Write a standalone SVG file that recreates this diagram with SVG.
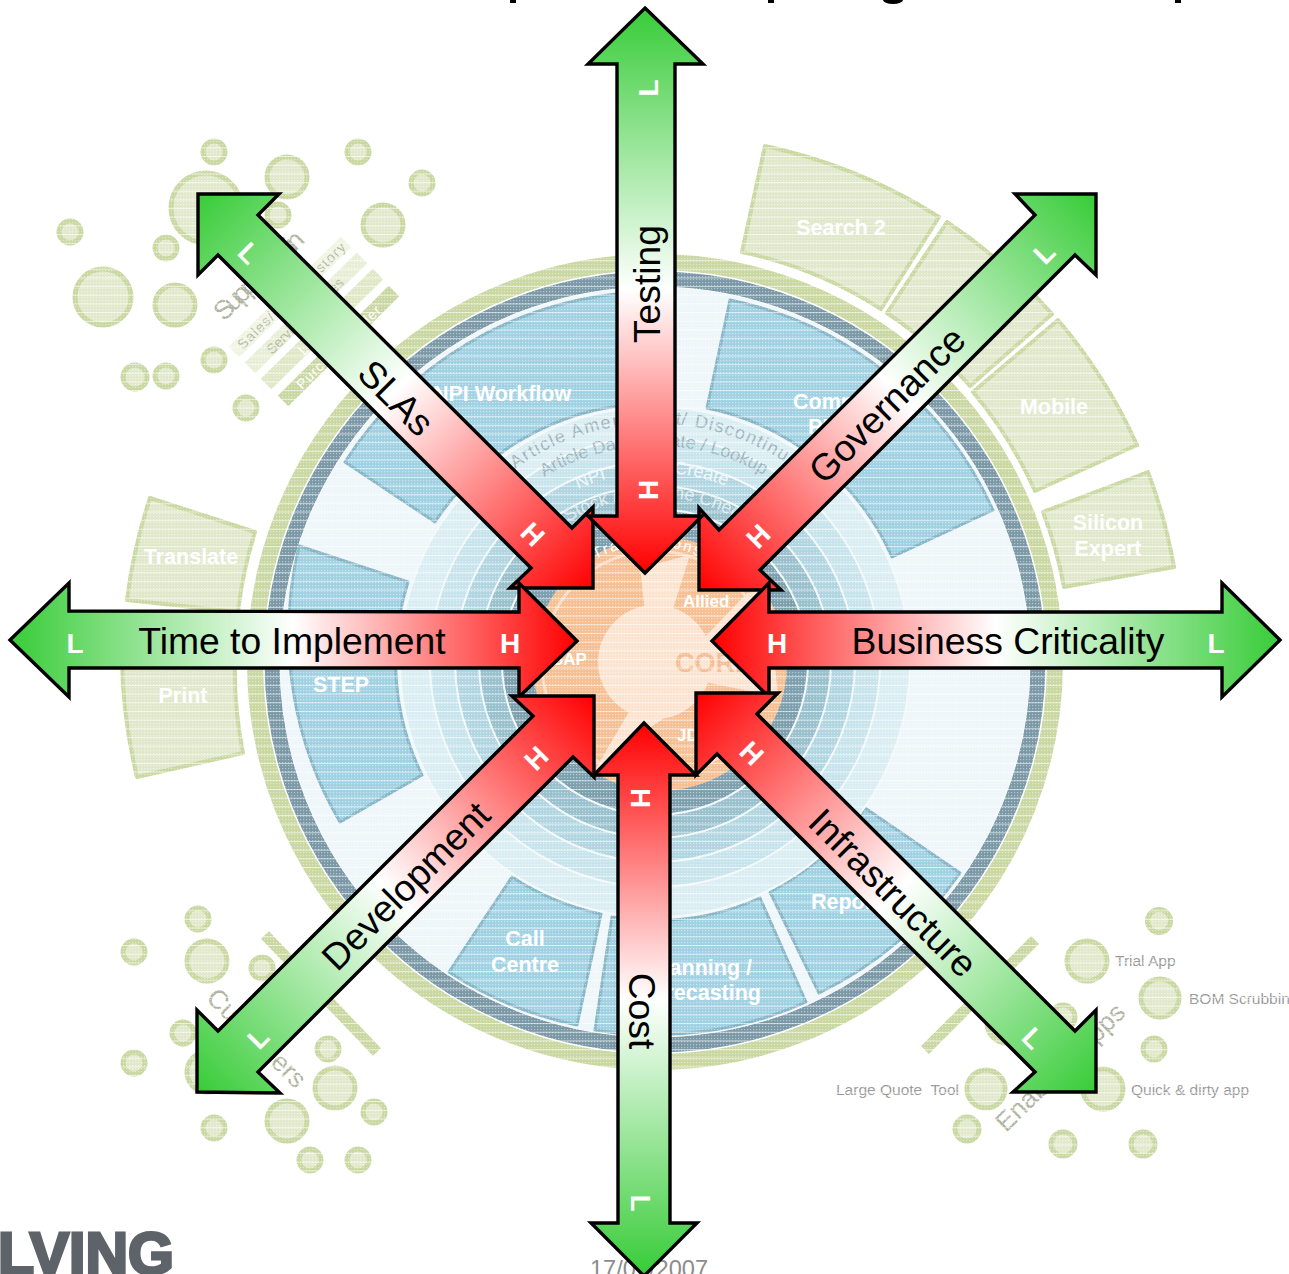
<svg xmlns="http://www.w3.org/2000/svg" width="1289" height="1274" viewBox="0 0 1289 1274">
<style>
text{font-family:"Liberation Sans",Arial,sans-serif}
.seg{fill:#e0e8cb;stroke:#c9d7a1;stroke-width:4;stroke-linejoin:round}
.blue{fill:#a0d1e2;stroke:#86b5c6;stroke-width:3;stroke-linejoin:round}
.bub{fill:#e1e9cc;stroke:#c9d7a1;stroke-width:5}
.wl{fill:#fff;font-weight:bold;font-size:21.5px;text-anchor:middle}
.sm{fill:#999;font-size:15.5px}
.big{fill:#aeb39f;font-size:26.5px}
.bar{fill:none;stroke-width:15}
.ring{stroke:#f2f8fa;stroke-width:2}
.arc{font-size:18px;fill:#9fb3bc}
.arrow{stroke:#000;stroke-width:3.4;stroke-linejoin:miter}
.t{font-size:37.3px;fill:#000;text-anchor:middle}
.hl{font-size:28px;font-weight:bold;fill:#fff;text-anchor:middle}
</style>
<defs>
<pattern id="dots" width="3" height="3" patternUnits="userSpaceOnUse"><rect width="1.2" height="1.2" fill="#fff" fill-opacity=".45"/></pattern>
<pattern id="lines" width="9" height="8.67" patternUnits="userSpaceOnUse"><rect width="9" height="1" fill="#fff" fill-opacity=".6"/></pattern>
<path id="a1" d="M515,469A238,238 0 0 1 795,469"/>
<path id="a2" d="M544,477A216,216 0 0 1 764,475"/>
<path id="a3" d="M578,489A190,190 0 0 1 726,486"/>
<path id="a4" d="M568,522A165,165 0 0 1 742,522"/>
<path id="a5" d="M595,559A122,122 0 0 1 705,559"/>
<linearGradient id="gTest" gradientUnits="userSpaceOnUse" x1="645" y1="8" x2="645" y2="573"><stop offset="0" stop-color="#38cc38"/><stop offset=".5" stop-color="#fff"/><stop offset="1" stop-color="#f00"/></linearGradient>
<linearGradient id="gCost" gradientUnits="userSpaceOnUse" x1="644" y1="1274" x2="644" y2="723"><stop offset="0" stop-color="#38cc38"/><stop offset=".5" stop-color="#fff"/><stop offset="1" stop-color="#f00"/></linearGradient>
<linearGradient id="gTime" gradientUnits="userSpaceOnUse" x1="10" y1="640" x2="577" y2="640"><stop offset="0" stop-color="#38cc38"/><stop offset=".5" stop-color="#fff"/><stop offset="1" stop-color="#f00"/></linearGradient>
<linearGradient id="gBus" gradientUnits="userSpaceOnUse" x1="1280" y1="640" x2="712" y2="640"><stop offset="0" stop-color="#38cc38"/><stop offset=".5" stop-color="#fff"/><stop offset="1" stop-color="#f00"/></linearGradient>
<linearGradient id="gSla" gradientUnits="userSpaceOnUse" x1="198" y1="194" x2="593" y2="588"><stop offset="0" stop-color="#38cc38"/><stop offset=".5" stop-color="#fff"/><stop offset="1" stop-color="#f00"/></linearGradient>
<linearGradient id="gGov" gradientUnits="userSpaceOnUse" x1="1096" y1="194" x2="699" y2="590"><stop offset="0" stop-color="#38cc38"/><stop offset=".5" stop-color="#fff"/><stop offset="1" stop-color="#f00"/></linearGradient>
<linearGradient id="gDev" gradientUnits="userSpaceOnUse" x1="197" y1="1092" x2="594" y2="696"><stop offset="0" stop-color="#38cc38"/><stop offset=".5" stop-color="#fff"/><stop offset="1" stop-color="#f00"/></linearGradient>
<linearGradient id="gInf" gradientUnits="userSpaceOnUse" x1="1096" y1="1092" x2="696" y2="693"><stop offset="0" stop-color="#38cc38"/><stop offset=".5" stop-color="#fff"/><stop offset="1" stop-color="#f00"/></linearGradient>
</defs>
<rect width="1289" height="1274" fill="#fff"/>
<g id="background">
<g id="bubbles">
<circle class="bub" cx="214" cy="152" r="11"/><circle class="bub" cx="287" cy="177" r="20"/><circle class="bub" cx="358" cy="152" r="11"/><circle class="bub" cx="422" cy="183" r="11"/><circle class="bub" cx="206" cy="208" r="35"/><circle class="bub" cx="278" cy="215" r="11"/><circle class="bub" cx="383" cy="225" r="20"/><circle class="bub" cx="70" cy="232" r="11"/><circle class="bub" cx="166" cy="248" r="11"/><circle class="bub" cx="103" cy="297" r="28"/><circle class="bub" cx="175" cy="305" r="20"/><circle class="bub" cx="214" cy="360" r="11"/><circle class="bub" cx="135" cy="377" r="12"/><circle class="bub" cx="166" cy="376" r="11"/><circle class="bub" cx="246" cy="408" r="11"/>
<circle class="bub" cx="198" cy="919" r="11"/><circle class="bub" cx="134" cy="952" r="11"/><circle class="bub" cx="207" cy="961" r="20"/><circle class="bub" cx="262" cy="968" r="11"/><circle class="bub" cx="183" cy="1033" r="11"/><circle class="bub" cx="134" cy="1063" r="11"/><circle class="bub" cx="207" cy="1072" r="20"/><circle class="bub" cx="328" cy="1049" r="11"/><circle class="bub" cx="335" cy="1088" r="20"/><circle class="bub" cx="374" cy="1112" r="11"/><circle class="bub" cx="287" cy="1121" r="20"/><circle class="bub" cx="214" cy="1128" r="11"/><circle class="bub" cx="310" cy="1160" r="11"/><circle class="bub" cx="358" cy="1160" r="11"/>
<circle class="bub" cx="1159" cy="921" r="11.5"/><circle class="bub" cx="1087" cy="961" r="20"/><circle class="bub" cx="1160" cy="998" r="19"/><circle class="bub" cx="1154" cy="1049" r="11"/><circle class="bub" cx="1063" cy="1017" r="12"/><circle class="bub" cx="1007" cy="1023" r="20"/><circle class="bub" cx="986" cy="1089" r="19"/><circle class="bub" cx="1103" cy="1089" r="20"/><circle class="bub" cx="967" cy="1129" r="12"/><circle class="bub" cx="1063" cy="1144" r="12"/><circle class="bub" cx="1143" cy="1144" r="12"/>
</g>
<g id="supply-bars">
<line class="bar" x1="234" y1="352" x2="346" y2="242" stroke="#f0f4e3"/>
<line class="bar" x1="250" y1="368" x2="362" y2="258" stroke="#e8eed6"/>
<line class="bar" x1="266" y1="384" x2="378" y2="274" stroke="#dfe7c6"/>
<line class="bar" x1="283" y1="401" x2="394" y2="291" stroke="#c8d7a2"/>
<text font-size="14" fill="#b4b9a4" transform="translate(243,350) rotate(-44.5)" textLength="145">Sales/Order History</text>
<text font-size="14" fill="#b4b9a4" transform="translate(272,355) rotate(-44.5)">Service Invoices</text>
<text font-size="14" fill="#fff" transform="translate(304,356) rotate(-44.5)">Logistics</text>
<text font-size="14" fill="#fff" transform="translate(302,390) rotate(-44.5)" textLength="112">Purchase Order</text>
<text class="big" transform="translate(224,322) rotate(-44.5)" textLength="115">Supply Chain</text>
</g>
<line id="tick-sw" x1="265" y1="935" x2="377" y2="1052" stroke="#c9d7a1" stroke-width="11"/>
<line id="tick-se" x1="1035" y1="940" x2="925" y2="1050" stroke="#c9d7a1" stroke-width="11"/>
<text class="big" transform="translate(205,999) rotate(45)">Customers</text>
<text class="big" transform="translate(1006,1133) rotate(-44.5)">Enabling Apps</text>
<text class="sm" x="1115" y="966">Trial App</text>
<text class="sm" x="1189" y="1004">BOM Scrubbin</text>
<text class="sm" x="836" y="1095" xml:space="preserve">Large Quote  Tool</text>
<text class="sm" x="1131" y="1095">Quick &amp; dirty app</text>
<g id="outer-segments">
<path class="seg" d="M742,252L765,146A528,528 0 0 1 939,217L881,309A419,419 0 0 0 742,252Z"/>
<path class="seg" d="M887,313L947,222A528,528 0 0 1 1052,314L970,386A419,419 0 0 0 887,313Z"/>
<path class="seg" d="M973,392L1058,320A528,528 0 0 1 1137,445L1035,491A417,417 0 0 0 973,392Z"/>
<path class="seg" d="M1043,512L1148,472A528,528 0 0 1 1174,567L1064,587A416,416 0 0 0 1043,512Z"/>
<path class="seg" d="M255,532L150,498A530,530 0 0 0 127,600L238,612A419,419 0 0 1 255,532Z"/>
<path class="seg" d="M236,640L122,640A535,535 0 0 0 137,777L243,753A419,419 0 0 1 236,640Z"/>
<text class="wl" x="841" y="235">Search 2</text>
<text class="wl" x="1054" y="414">Mobile</text>
<text class="wl" x="1108" y="530">Silicon</text>
<text class="wl" x="1108" y="556">Expert</text>
<text class="wl" x="191" y="564">Translate</text>
<text class="wl" x="183" y="703">Print</text>
</g>
<g id="disk">
<circle cx="655" cy="662" r="400" fill="none" stroke="#c9d7a1" stroke-width="16"/>
<circle cx="655" cy="662" r="383" fill="none" stroke="#7a98a6" stroke-width="15"/>
<circle cx="655" cy="662" r="375" fill="#eef6f9"/>
</g>
<g id="blue-segments">
<path class="blue" d="M707,408L730,300A370,370 0 0 1 993,510L892,557A259,259 0 0 0 707,408Z"/>
<path class="blue" d="M435,522L345,462A370,370 0 0 1 628,293L640,404A261,261 0 0 0 435,522Z"/>
<path class="blue" d="M408,582L299,546A374,374 0 0 0 340,822L422,775A259,259 0 0 1 408,582Z"/>
<path class="blue" d="M512,877L449,972A370,370 0 0 0 577,1025L601,914A259,259 0 0 1 512,877Z"/>
<path class="blue" d="M612,917L595,1030A370,370 0 0 0 806,1002L760,898A259,259 0 0 1 612,917Z"/>
<path class="blue" d="M770,892L819,993A370,370 0 0 0 960,873L865,808A259,259 0 0 1 770,892Z"/>
<text class="wl" x="433" y="401" style="text-anchor:start">NPI Workflow</text>
<text class="wl" x="793" y="409" style="text-anchor:start">Component</text>
<text class="wl" x="808" y="434" style="text-anchor:start">PDM</text>
<text class="wl" x="341" y="692">STEP</text>
<text class="wl" x="525" y="946">Call</text>
<text class="wl" x="525" y="972">Centre</text>
<text class="wl" x="752" y="975" style="text-anchor:end">Planning /</text>
<text class="wl" x="761" y="1000" style="text-anchor:end">Forecasting</text>
<text class="wl" x="811" y="909" style="text-anchor:start">Reports</text>
</g>
<g id="rings">
<circle class="ring" cx="655" cy="662" r="255" fill="#d9edf3"/>
<circle class="ring" cx="655" cy="662" r="225" fill="#c7e3ec"/>
<circle class="ring" cx="655" cy="662" r="200" fill="#b0d5e1"/>
<circle class="ring" cx="655" cy="662" r="176" fill="#98c0cd"/>
<circle class="ring" cx="655" cy="662" r="153" fill="#7c9fae"/>
<text class="arc" letter-spacing="1.5"><textPath href="#a1">Article Amendment</textPath></text>
<text class="arc" letter-spacing="1.5" style="text-anchor:end"><textPath href="#a1" startOffset="100%">/ Discontinue</textPath></text>
<text class="arc"><textPath href="#a2">Article Data</textPath></text>
<text class="arc" style="text-anchor:end"><textPath href="#a2" startOffset="100%">Update / Lookup</textPath></text>
<text class="arc" style="fill:#eef6f9"><textPath href="#a3">NPI</textPath></text>
<text class="arc" style="fill:#eef6f9;text-anchor:end"><textPath href="#a3" startOffset="100%">Create</textPath></text>
<text class="arc" style="fill:#dbe9ee"><textPath href="#a4">Stock /</textPath></text>
<text class="arc" style="fill:#dbe9ee"><textPath href="#a4" startOffset="78">Online Check</textPath></text>
</g>
<g id="core">
<circle cx="660" cy="664" r="127" fill="#f6bf93"/>
<circle cx="655" cy="664" r="113" fill="none" stroke="#fbdcc4" stroke-width="3"/>
<path fill="#fce3d0" d="M645,612L640,568L690,555L672,612ZM630,710L595,770L640,735L668,715ZM695,660L705,637L747,593L768,590L778,697L705,682Z"/>
<circle cx="655" cy="662" r="57" fill="#fce3d0"/>
<text font-size="15" fill="#fff" letter-spacing="2"><textPath href="#a5">Transactions</textPath></text>
<text x="552" y="665" font-size="17" font-weight="bold" fill="#fff">SAP</text>
<text x="683" y="607" font-size="17" font-weight="bold" fill="#fff">Allied</text>
<text x="677" y="741" font-size="17" font-weight="bold" fill="#fff">JDE</text>
<text x="675" y="672" font-size="27" font-weight="bold" fill="#f3bd95">CORE</text>
</g>
<rect id="dot-texture" width="1289" height="1240" fill="url(#dots)"/>
<rect id="line-texture" width="1289" height="1240" fill="url(#lines)"/>
</g>
<g id="title-cut">
<rect x="510" y="0" width="6" height="3" fill="#000"/><rect x="768" y="0" width="6" height="3" fill="#000"/><ellipse cx="893" cy="0" rx="10" ry="4" fill="#000"/><rect x="1175" y="0" width="6" height="3" fill="#000"/>
</g>
<text id="logo" x="-2" y="1274" font-size="59" font-weight="bold" fill="#5d6369" stroke="#5d6369" stroke-width="3">LVING</text>
<text id="date" x="590" y="1277" font-size="23.6" fill="#8c8c8c">17/01/2007</text>
<g id="connectors">
<g id="arrow-slas"><path class="arrow" fill="url(#gSla)" d="M198,194L279,194L258,215L572,528L593,507L593,588L510,588L531,568L218,255L198,275Z"/>
<text class="t" transform="translate(387,407) rotate(45)">SLAs</text>
<text class="hl" transform="translate(249,253) rotate(45)" y="10">L</text><text class="hl" transform="translate(533,534) rotate(45)" y="10">H</text></g>
<g id="arrow-governance"><path class="arrow" fill="url(#gGov)" d="M1096,194L1096,275L1075,255L760,570L781,590L699,590L699,508L719,530L1035,215L1015,194Z"/>
<text class="t" transform="translate(896,414) rotate(-45)">Governance</text>
<text class="hl" transform="translate(1044,253) rotate(-45)" y="10">L</text><text class="hl" transform="translate(758,536) rotate(-45)" y="10">H</text></g>
<g id="arrow-testing"><path class="arrow" fill="url(#gTest)" d="M645,8L703,64L675,64L675,516L702,516L645,573L588,516L617,516L617,64L588,64Z"/>
<text class="t" transform="translate(660,284) rotate(-90)">Testing</text>
<text class="hl" transform="translate(648,88) rotate(-90)" y="10">L</text><text class="hl" transform="translate(648,490) rotate(-90)" y="10">H</text></g>
<g id="arrow-time"><path class="arrow" fill="url(#gTime)" d="M10,640L69,583L69,611L519,612L519,583L577,641L519,697L519,668L69,668L69,697Z"/>
<text class="t" x="292" y="654">Time to Implement</text>
<text class="hl" x="75" y="653">L</text><text class="hl" x="510" y="653">H</text></g>
<g id="arrow-business"><path class="arrow" fill="url(#gBus)" d="M1280,640L1222,583L1222,612L769,612L769,583L712,641L769,697L769,668L1222,668L1222,697Z"/>
<text class="t" x="1008" y="654">Business Criticality</text>
<text class="hl" x="1216" y="653">L</text><text class="hl" x="777" y="653">H</text></g>
<g id="arrow-development"><path class="arrow" fill="url(#gDev)" d="M197,1092L197,1010L218,1031L533,716L512,696L594,696L594,777L573,757L258,1072L280,1093Z"/>
<text class="t" transform="translate(415,895) rotate(-45)">Development</text>
<text class="hl" transform="translate(258,1038) rotate(-45)" y="10">L</text><text class="hl" transform="translate(536,758) rotate(-45)" y="10">H</text></g>
<g id="arrow-infrastructure"><path class="arrow" fill="url(#gInf)" d="M1096,1092L1013,1092L1035,1072L717,754L696,775L696,693L778,693L757,714L1075,1031L1096,1010Z"/>
<text class="t" transform="translate(884,902) rotate(45)">Infrastructure</text>
<text class="hl" transform="translate(1033,1038) rotate(45)" y="10">L</text><text class="hl" transform="translate(752,753) rotate(45)" y="10">H</text></g>
<g id="arrow-cost"><path class="arrow" fill="url(#gCost)" d="M644,723L696,775L670,775L670,1223L697,1223L644,1276L591,1223L618,1223L618,775L594,775Z"/>
<text class="t" transform="translate(629,1011) rotate(90)">Cost</text>
<text class="hl" transform="translate(641,1203) rotate(90)" y="10">L</text><text class="hl" transform="translate(641,798) rotate(90)" y="10">H</text></g>
</g>
</svg>
